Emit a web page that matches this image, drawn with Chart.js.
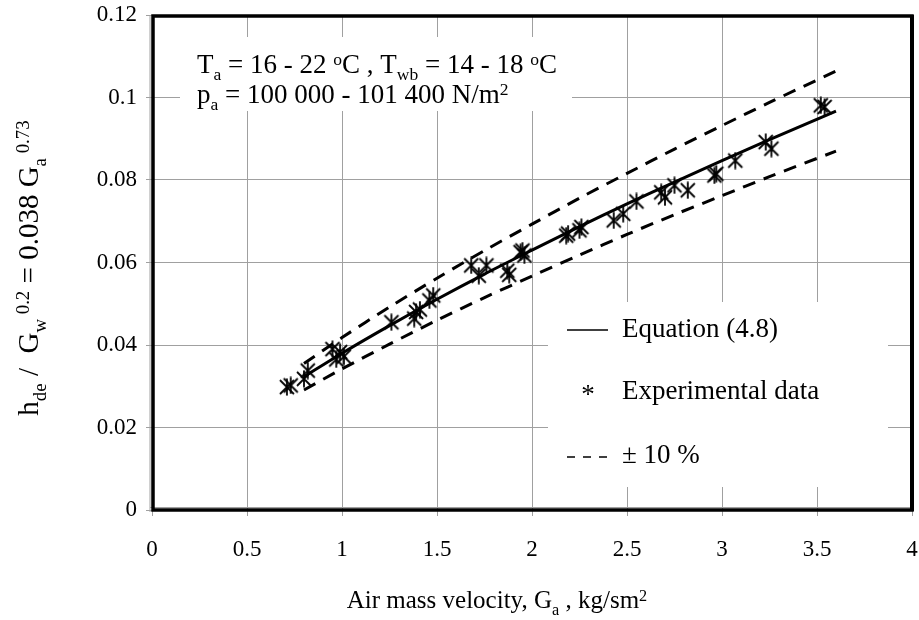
<!DOCTYPE html>
<html>
<head>
<meta charset="utf-8">
<script src="https://cdn.jsdelivr.net/npm/chart.js@4/dist/chart.umd.min.js"></script>
<style>
  html, body { margin: 0; padding: 0; background: #fff; }
  #wrap { width: 919px; height: 620px; }
</style>
</head>
<body>
<div id="wrap"><canvas id="c" width="919" height="620"></canvas></div>
<script>
// 実験データ（アスタリスク）と式 (4.8) の曲線、±10% の帯
const expX = [0.71, 0.73, 0.80, 0.82, 0.95, 0.97, 0.99, 1.01, 1.26, 1.38, 1.39, 1.41, 1.46, 1.48,
  1.68, 1.72, 1.76, 1.87, 1.88, 1.94, 1.95, 1.96, 2.18, 2.19, 2.25, 2.26, 2.43, 2.48, 2.55,
  2.68, 2.70, 2.75, 2.82, 2.96, 2.97, 3.07, 3.23, 3.26, 3.52, 3.54];
const expY = [0.0298, 0.0302, 0.0318, 0.0338, 0.0390, 0.0365, 0.0383, 0.0372, 0.0455, 0.0464, 0.0480, 0.0486, 0.0508, 0.0520,
  0.0593, 0.0568, 0.0593, 0.0580, 0.0570, 0.0625, 0.0629, 0.0617, 0.0665, 0.0670, 0.0678, 0.0686, 0.0702, 0.0718, 0.0748,
  0.0770, 0.0758, 0.0787, 0.0775, 0.0811, 0.0815, 0.0847, 0.0892, 0.0876, 0.0981, 0.0977];

const eqX = [0.8, 1.0, 1.25, 1.5, 1.75, 2.0, 2.25, 2.5, 2.75, 3.0, 3.25, 3.6];
const eqY = [0.0323, 0.0380, 0.0447, 0.0511, 0.0572, 0.0630, 0.0687, 0.0742, 0.0795, 0.0847, 0.0898, 0.0967];
const upperY = [0.0355, 0.0418, 0.0492, 0.0562, 0.0629, 0.0693, 0.0756, 0.0816, 0.0875, 0.0932, 0.0988, 0.1064];
const lowerY = [0.0291, 0.0342, 0.0402, 0.0460, 0.0515, 0.0567, 0.0618, 0.0668, 0.0716, 0.0762, 0.0808, 0.0870];

const xTickValues = [0, 0.5, 1, 1.5, 2, 2.5, 3, 3.5, 4];
const yTickLabels = { 0: "0", 0.02: "0.02", 0.04: "0.04", 0.06: "0.06", 0.08: "0.08", 0.1: "0.1", 0.12: "0.12" };

const FONT = "'Liberation Serif', 'Times New Roman', serif";
const GRID = "#a0a0a0";

function pts(xs, ys) {
  return xs.map((x, i) => ({ x, y: ys[i] }));
}

// 6本腕のアスタリスク（Excel の * マーカー風）
function asteriskMarker() {
  const s = 18;
  const cv = document.createElement("canvas");
  cv.width = s; cv.height = s;
  const g = cv.getContext("2d");
  g.strokeStyle = "#000";
  g.lineWidth = 1.8;
  g.beginPath();
  g.moveTo(s / 2, 0.5); g.lineTo(s / 2, s - 0.5);
  g.moveTo(2, 2); g.lineTo(s - 2, s - 2);
  g.moveTo(s - 2, 2); g.lineTo(2, s - 2);
  g.stroke();
  return cv;
}

// 下付き・上付きを含む文字列を描く
function richWidth(ctx, segs, size) {
  let w = 0;
  segs.forEach((s) => {
    const fs = s[1] === "n" ? size : size * 0.65;
    ctx.font = `${fs}px ${FONT}`;
    w += ctx.measureText(s[0]).width;
  });
  return w;
}

function drawRich(ctx, segs, x, y, size, align) {
  if (align === "center") x -= richWidth(ctx, segs, size) / 2;
  ctx.textAlign = "left";
  ctx.textBaseline = "alphabetic";
  ctx.fillStyle = "#000";
  segs.forEach((s) => {
    const fs = s[1] === "n" ? size : size * 0.65;
    const dy = s[1] === "sub" ? size * 0.26 : s[1] === "sup" ? -size * 0.3 : 0;
    ctx.font = `${fs}px ${FONT}`;
    ctx.fillText(s[0], x, y + dy);
    x += ctx.measureText(s[0]).width;
  });
}

const decorations = {
  id: "decorations",
  beforeDatasetsDraw(chart) {
    const ctx = chart.ctx;
    ctx.save();
    ctx.fillStyle = "#fff";
    ctx.fillRect(180, 37, 392, 74);   // 条件テキストの背景
    ctx.fillRect(548, 302, 340, 185); // 凡例の背景
    ctx.restore();
  },
  afterDraw(chart) {
    const ctx = chart.ctx;
    const a = chart.chartArea;
    ctx.save();

    // 枠
    ctx.strokeStyle = GRID;
    ctx.lineWidth = 1;
    ctx.beginPath();
    ctx.moveTo(a.left - 2, a.top); ctx.lineTo(a.left - 2, a.bottom + 2);
    ctx.moveTo(a.left - 2, a.bottom - 2.5); ctx.lineTo(a.right, a.bottom - 2.5);
    ctx.stroke();
    ctx.strokeStyle = "#000";
    ctx.lineWidth = 3.5;
    ctx.strokeRect(a.left + 1, a.top + 1, a.right - a.left - 1, a.bottom - a.top - 1);
    ctx.lineWidth = 4;
    ctx.beginPath();
    ctx.moveTo(a.right, a.top); ctx.lineTo(a.right, a.bottom + 1);
    ctx.stroke();

    // 条件テキスト
    drawRich(ctx, [["T", "n"], ["a", "sub"], [" = 16 - 22 ", "n"], ["o", "sup"], ["C , T", "n"], ["wb", "sub"],
      [" = 14 - 18 ", "n"], ["o", "sup"], ["C", "n"]], 197, 73, 27);
    drawRich(ctx, [["p", "n"], ["a", "sub"], [" = 100 000 - 101 400 N/m", "n"], ["2", "sup"]], 197, 103, 27);

    // 凡例
    ctx.strokeStyle = "#000";
    ctx.lineWidth = 1.5;
    ctx.setLineDash([]);
    ctx.beginPath(); ctx.moveTo(567, 330); ctx.lineTo(608, 330); ctx.stroke();
    ctx.setLineDash([8, 8]);
    ctx.beginPath(); ctx.moveTo(567, 457); ctx.lineTo(608, 457); ctx.stroke();
    ctx.setLineDash([]);
    ctx.font = `27px ${FONT}`;
    ctx.fillStyle = "#000";
    ctx.textAlign = "left";
    ctx.textBaseline = "middle";
    ctx.fillText("Equation (4.8)", 622, 330);
    ctx.fillText("Experimental data", 622, 392);
    ctx.fillText("± 10 %", 622, 456);
    ctx.textAlign = "center";
    ctx.fillText("*", 588, 396);

    // 軸タイトル
    drawRich(ctx, [["Air mass velocity, G", "n"], ["a", "sub"], [" , kg/sm", "n"], ["2", "sup"]], 497, 608, 25, "center");
    ctx.save();
    ctx.translate(38, 268);
    ctx.rotate(-Math.PI / 2);
    drawRich(ctx, [["h", "n"], ["de", "sub"], [" /  G", "n"], ["w", "sub"], [" 0.2", "sup"], [" = 0.038 G", "n"],
      ["a", "sub"], [" 0.73", "sup"]], 0, 0, 29, "center");
    ctx.restore();

    ctx.restore();
  },
};

new Chart(document.getElementById("c"), {
  type: "scatter",
  data: {
    datasets: [
      {
        label: "Experimental data",
        data: pts(expX, expY),
        pointStyle: asteriskMarker(),
        showLine: false,
      },
      {
        label: "Equation (4.8)",
        data: pts(eqX, eqY),
        showLine: true,
        borderColor: "#000",
        borderWidth: 3,
        pointRadius: 0,
        tension: 0.3,
      },
      {
        label: "+10 %",
        data: pts(eqX, upperY),
        showLine: true,
        borderColor: "#000",
        borderWidth: 3,
        borderDash: [13, 9],
        pointRadius: 0,
        tension: 0.3,
      },
      {
        label: "-10 %",
        data: pts(eqX, lowerY),
        showLine: true,
        borderColor: "#000",
        borderWidth: 3,
        borderDash: [13, 9],
        pointRadius: 0,
        tension: 0.3,
      },
    ],
  },
  options: {
    responsive: false,
    animation: false,
    devicePixelRatio: 1,
    layout: { padding: { top: 15, right: 7, left: 0, bottom: 0 } },
    plugins: { legend: { display: false }, tooltip: { enabled: false } },
    scales: {
      x: {
        type: "linear",
        min: 0,
        max: 4,
        afterFit: (s) => { s.height = 110; s.paddingLeft = 0; s.paddingRight = 0; },
        afterBuildTicks: (s) => { s.ticks = xTickValues.map((v) => ({ value: v })); },
        grid: { color: GRID, lineWidth: 1, tickLength: 6, tickColor: GRID },
        border: { display: false },
        ticks: {
          color: "#000",
          font: { family: FONT, size: 23 },
          padding: 20,
          maxRotation: 0,
          callback: (v) => String(v),
        },
      },
      y: {
        type: "linear",
        min: 0,
        max: 0.12,
        afterFit: (s) => { s.width = 152; s.paddingTop = 0; s.paddingBottom = 0; },
        afterBuildTicks: (s) => { s.ticks = Object.keys(yTickLabels).map((k) => ({ value: Number(k) })); },
        grid: { color: GRID, lineWidth: 1, tickLength: 6, tickColor: GRID },
        border: { display: false },
        ticks: {
          color: "#000",
          font: { family: FONT, size: 23 },
          padding: 9,
          callback: (v) => yTickLabels[Number(v.toFixed(2))],
        },
      },
    },
  },
  plugins: [decorations],
});
</script>
</body>
</html>
